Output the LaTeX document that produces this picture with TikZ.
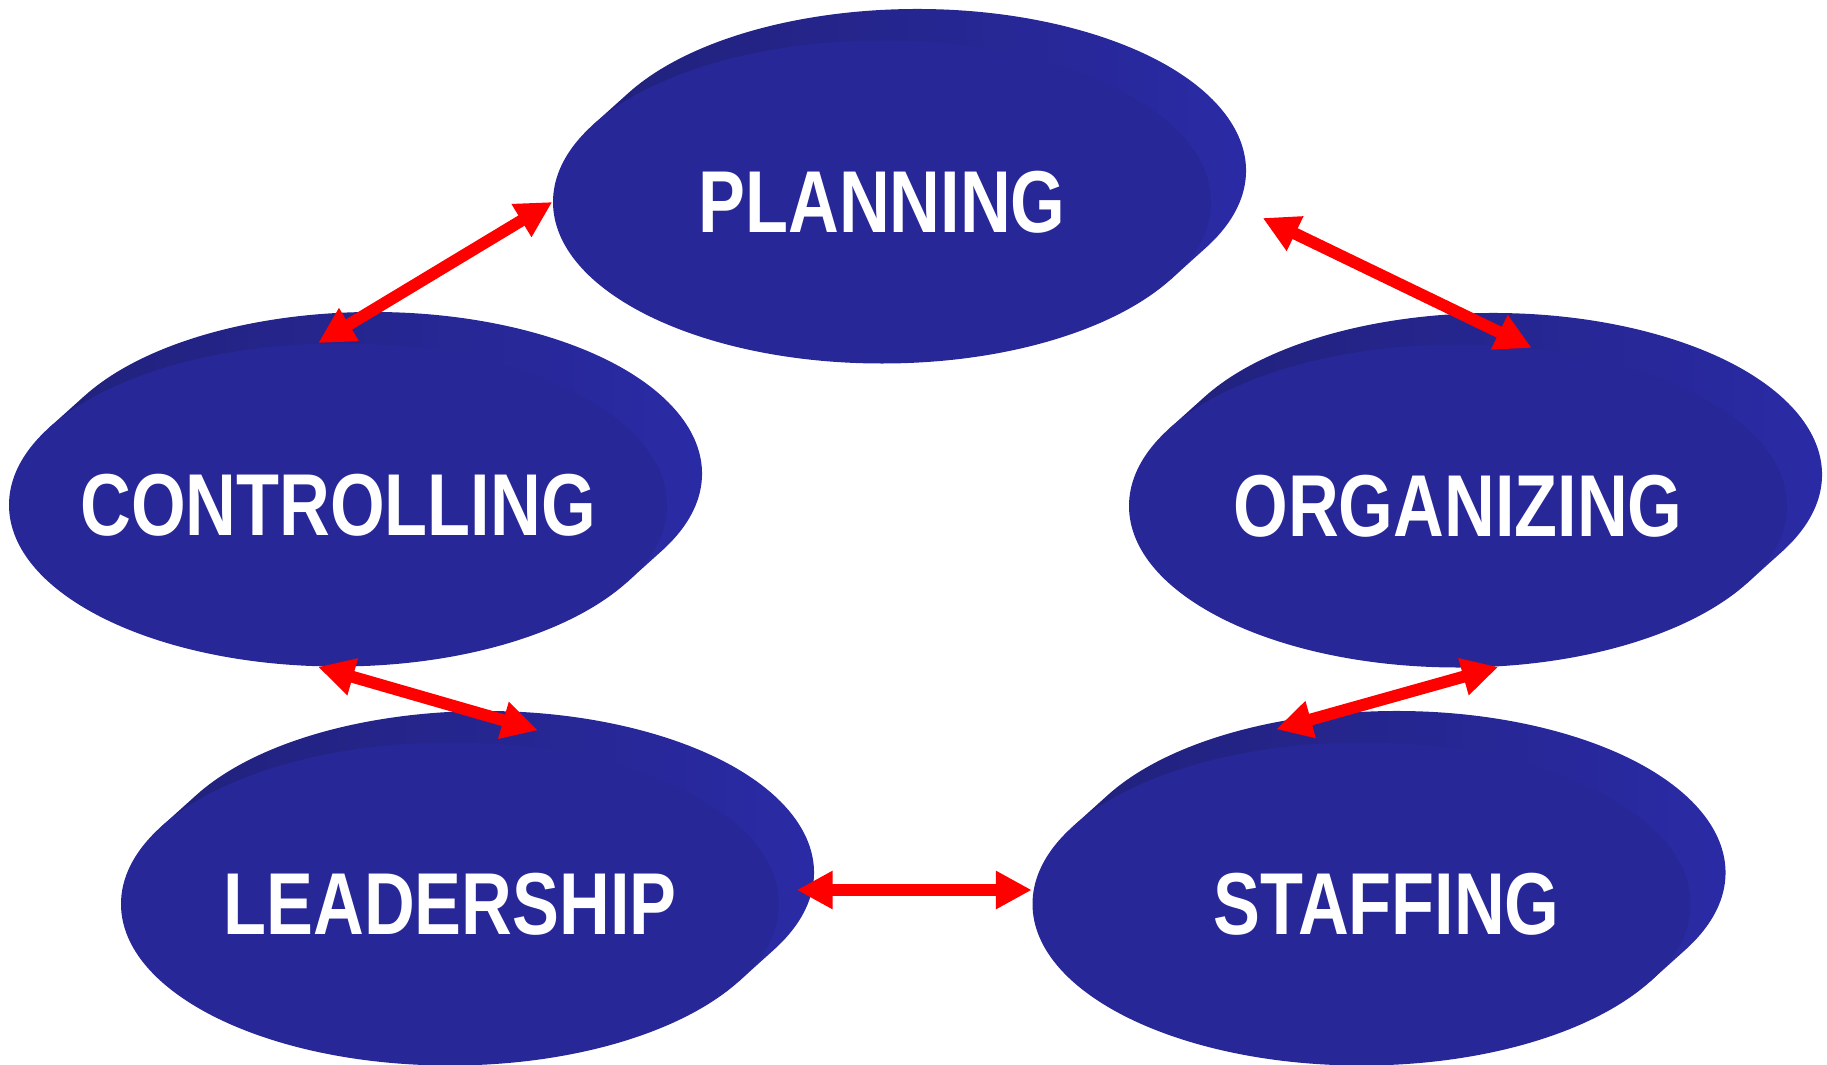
\documentclass[tikz,border=0pt]{standalone}
\usepackage{fontspec}
\newfontfamily\discfont{Liberation Sans}[FakeStretch=0.8]
\usetikzlibrary{shapes.geometric,arrows.meta,calc}

\definecolor{discblue}{RGB}{39,39,152}
\definecolor{sidedark}{RGB}{33,33,124}
\definecolor{sidelight}{RGB}{43,43,168}

\begin{document}
\begin{tikzpicture}[
    disc/.style={ellipse,fill=discblue,minimum width=6.58cm,minimum height=3.23cm,inner sep=0pt},
    word/.style={text=white,font=\discfont\bfseries\fontsize{25}{25}\selectfont},
    side/.style={left color=sidedark,middle color=sidedark,right color=sidelight},
    link/.style={red,line width=3.4pt,{Triangle[length=3.6mm,width=3.6mm]}-{Triangle[length=3.6mm,width=3.6mm]}}
  ]
  \useasboundingbox (0,0) rectangle (18.27,10.64);

  \coordinate (pl) at (8.82,8.62);
  \coordinate (co) at (3.38,5.59);
  \coordinate (or) at (14.58,5.58);
  \coordinate (le) at (4.50,1.60);
  \coordinate (st) at (13.615,1.60);

  % depth of the discs
  \foreach \c in {pl,co,or,le,st}
    \shade[side,shift={(\c)}] (151.4:3.29 and 1.615) -- ++(0.35,0.315)
      arc[start angle=151.4,end angle=-28.6,x radius=3.29,y radius=1.615]
      -- (-28.6:3.29 and 1.615) -- cycle;

  \node[disc,label={[word]center:PLANNING}] (planning) at (pl) {};
  \node[disc,label={[word]center:CONTROLLING}] (controlling) at (co) {};
  \node[disc,label={[word]center:ORGANIZING}] (organizing) at (or) {};
  \node[disc,label={[word]center:LEADERSHIP}] (leadership) at (le) {};
  \node[disc,label={[word,xshift=0.25cm]center:STAFFING}] (staffing) at (st) {};

  \coordinate (ls) at ($(leadership.east)+(0.17,0.14)$);

  \draw[link] (controlling.97) -- (planning.west);
  \draw[link] ($(planning.east)+(0.51,-0.16)$) -- (organizing.65);
  \draw[link] (controlling.263) -- ($(leadership.north)+(0.88,0.115)$);
  \draw[link] (organizing.284) -- ($(staffing.north)+(-0.855,0.125)$);
  \draw[link] (ls) -- (ls -| staffing.west);

\end{tikzpicture}
\end{document}
